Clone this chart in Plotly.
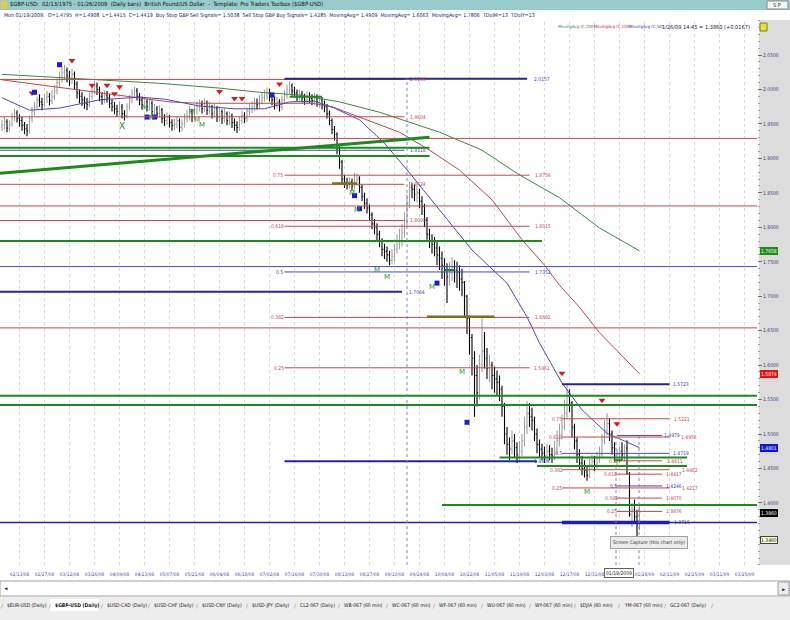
import plotly.graph_objects as go

# ---------------- DATA ----------------
# daily bars, bar index 0 = Mon 02/04/2008 ... index 255 = Mon 01/26/2009
O = [1.945,1.948,1.953,1.944,1.950,1.960,1.966,1.958,1.955,1.948,
     1.943,1.940,1.958,1.968,1.975,1.985,1.982,1.978,1.988,1.990,
     1.984,1.990,1.998,2.010,2.018,2.025,2.028,2.020,2.015,2.022,
     2.008,1.995,1.990,1.985,1.980,1.978,1.990,1.998,2.005,2.000,
     1.990,1.985,1.992,1.988,1.980,1.975,1.972,1.968,1.975,1.965,
     1.962,1.975,1.985,1.995,1.998,1.990,1.985,1.978,1.982,1.975,
     1.980,1.968,1.972,1.965,1.970,1.958,1.955,1.960,1.952,1.948,
     1.950,1.955,1.945,1.950,1.958,1.962,1.968,1.960,1.970,1.975,
     1.978,1.972,1.980,1.970,1.975,1.965,1.972,1.960,1.968,1.958,
     1.965,1.955,1.962,1.952,1.948,1.945,1.955,1.962,1.958,1.968,
     1.972,1.975,1.980,1.978,1.985,1.988,1.992,1.995,1.990,1.985,
     1.978,1.982,1.975,1.985,1.992,2.000,2.005,1.998,1.995,1.990,
     1.993,1.988,1.985,1.990,1.987,1.984,1.988,1.982,1.985,1.978,
     1.975,1.965,1.955,1.942,1.935,1.915,1.895,1.870,1.865,1.862,
     1.866,1.860,1.868,1.870,1.858,1.845,1.835,1.828,1.818,1.805,
     1.800,1.790,1.780,1.768,1.765,1.760,1.752,1.758,1.768,1.775,
     1.780,1.792,1.810,1.835,1.858,1.855,1.848,1.850,1.838,1.830,
     1.810,1.790,1.780,1.775,1.770,1.760,1.755,1.745,1.738,1.728,
     1.735,1.742,1.738,1.735,1.725,1.720,1.700,1.668,1.640,1.610,
     1.585,1.560,1.600,1.620,1.610,1.595,1.600,1.585,1.580,1.575,
     1.565,1.540,1.500,1.485,1.478,1.490,1.480,1.470,1.475,1.490,
     1.510,1.530,1.525,1.520,1.500,1.485,1.478,1.472,1.468,1.475,
     1.470,1.468,1.478,1.490,1.500,1.510,1.530,1.560,1.545,1.510,
     1.490,1.470,1.458,1.450,1.448,1.440,1.455,1.460,1.455,1.465,
     1.470,1.490,1.505,1.515,1.500,1.480,1.465,1.470,1.475,1.470,
     1.4795,1.442,1.383,1.390,1.380,1.3693]
H = [1.956,1.960,1.957,1.955,1.966,1.972,1.970,1.964,1.960,1.953,
     1.950,1.962,1.975,1.982,1.990,1.993,1.988,1.994,1.998,1.995,
     1.999,2.006,2.016,2.026,2.034,2.036,2.032,2.027,2.030,2.026,
     2.012,2.000,1.996,1.990,1.988,1.996,2.006,2.013,2.010,2.004,
     1.996,1.999,1.998,1.993,1.986,1.982,1.978,1.982,1.979,1.970,
     1.980,1.992,2.001,2.004,2.002,1.995,1.990,1.989,1.986,1.987,
     1.984,1.979,1.976,1.977,1.973,1.964,1.967,1.963,1.957,1.958,
     1.962,1.958,1.957,1.965,1.970,1.976,1.972,1.977,1.983,1.986,
     1.984,1.987,1.984,1.982,1.978,1.979,1.976,1.974,1.971,1.972,
     1.968,1.968,1.965,1.958,1.954,1.961,1.969,1.967,1.974,1.980,
     1.983,1.988,1.987,1.992,1.996,2.000,2.003,2.001,1.995,1.990,
     1.989,1.986,1.991,1.999,2.007,2.012,2.009,2.004,2.000,2.000,
     1.998,1.994,1.997,1.996,1.993,1.995,1.993,1.991,1.989,1.984,
     1.979,1.969,1.958,1.947,1.938,1.919,1.898,1.876,1.872,1.873,
     1.871,1.879,1.878,1.874,1.862,1.850,1.842,1.833,1.822,1.812,
     1.806,1.795,1.784,1.776,1.772,1.766,1.768,1.776,1.790,1.798,
     1.805,1.822,1.848,1.866,1.864,1.862,1.860,1.856,1.845,1.834,
     1.815,1.798,1.790,1.786,1.780,1.772,1.765,1.755,1.748,1.750,
     1.757,1.752,1.750,1.745,1.740,1.722,1.702,1.672,1.645,1.620,
     1.600,1.615,1.668,1.648,1.625,1.615,1.605,1.598,1.592,1.585,
     1.570,1.545,1.510,1.495,1.505,1.500,1.488,1.490,1.500,1.525,
     1.548,1.545,1.538,1.525,1.508,1.492,1.486,1.482,1.486,1.484,
     1.480,1.490,1.505,1.515,1.528,1.550,1.572,1.565,1.548,1.515,
     1.495,1.478,1.468,1.462,1.455,1.464,1.470,1.468,1.474,1.482,
     1.500,1.520,1.530,1.522,1.505,1.488,1.478,1.482,1.488,1.485,
     1.4908,1.445,1.400,1.405,1.390,1.395]
L = [1.940,1.942,1.938,1.939,1.946,1.954,1.952,1.946,1.940,1.935,
     1.932,1.936,1.952,1.962,1.970,1.975,1.970,1.974,1.980,1.977,
     1.979,1.985,1.993,2.004,2.010,2.015,2.010,2.005,2.008,2.000,
     1.987,1.980,1.976,1.972,1.970,1.974,1.985,1.993,1.992,1.983,
     1.978,1.980,1.981,1.973,1.968,1.964,1.960,1.962,1.958,1.955,
     1.958,1.970,1.980,1.988,1.984,1.977,1.971,1.972,1.968,1.969,
     1.962,1.961,1.958,1.959,1.951,1.947,1.949,1.945,1.940,1.941,
     1.944,1.938,1.939,1.945,1.952,1.955,1.953,1.955,1.964,1.968,
     1.965,1.967,1.963,1.964,1.958,1.959,1.953,1.954,1.950,1.952,
     1.948,1.949,1.944,1.940,1.937,1.940,1.950,1.951,1.953,1.962,
     1.966,1.969,1.971,1.972,1.979,1.982,1.985,1.983,1.977,1.971,
     1.972,1.968,1.970,1.980,1.987,1.994,1.991,1.988,1.983,1.984,
     1.981,1.978,1.979,1.980,1.977,1.978,1.975,1.974,1.971,1.967,
     1.958,1.948,1.935,1.926,1.906,1.885,1.862,1.857,1.855,1.856,
     1.853,1.855,1.860,1.850,1.838,1.827,1.820,1.810,1.797,1.790,
     1.781,1.771,1.758,1.754,1.750,1.745,1.746,1.750,1.762,1.768,
     1.772,1.785,1.800,1.828,1.842,1.838,1.836,1.828,1.818,1.800,
     1.782,1.770,1.762,1.758,1.745,1.738,1.725,1.715,1.690,1.715,
     1.722,1.720,1.712,1.708,1.700,1.670,1.645,1.615,1.585,1.525,
     1.540,1.550,1.590,1.595,1.580,1.575,1.565,1.560,1.555,1.548,
     1.525,1.485,1.470,1.462,1.470,1.465,1.458,1.460,1.468,1.482,
     1.500,1.510,1.505,1.490,1.472,1.466,1.462,1.458,1.460,1.462,
     1.458,1.462,1.470,1.482,1.492,1.505,1.522,1.532,1.495,1.478,
     1.458,1.448,1.440,1.437,1.432,1.436,1.448,1.446,1.450,1.458,
     1.465,1.485,1.498,1.490,1.470,1.460,1.455,1.458,1.462,1.460,
     1.4415,1.380,1.365,1.370,1.350,1.360]
C = [1.948,1.953,1.944,1.950,1.960,1.966,1.958,1.955,1.948,1.943,
     1.940,1.958,1.968,1.975,1.985,1.982,1.978,1.988,1.990,1.984,
     1.990,1.998,2.010,2.018,2.025,2.028,2.020,2.015,2.022,2.008,
     1.995,1.990,1.985,1.980,1.978,1.990,1.998,2.005,2.000,1.990,
     1.985,1.992,1.988,1.980,1.975,1.972,1.968,1.975,1.965,1.962,
     1.975,1.985,1.995,1.998,1.990,1.985,1.978,1.982,1.975,1.980,
     1.968,1.972,1.965,1.970,1.958,1.955,1.960,1.952,1.948,1.950,
     1.955,1.945,1.950,1.958,1.962,1.968,1.960,1.970,1.975,1.978,
     1.972,1.980,1.970,1.975,1.965,1.972,1.960,1.968,1.958,1.965,
     1.955,1.962,1.952,1.948,1.945,1.955,1.962,1.958,1.968,1.972,
     1.975,1.980,1.978,1.985,1.988,1.992,1.995,1.990,1.985,1.978,
     1.982,1.975,1.985,1.992,2.000,2.005,1.998,1.995,1.990,1.993,
     1.988,1.985,1.990,1.987,1.984,1.988,1.982,1.985,1.978,1.975,
     1.965,1.955,1.942,1.935,1.915,1.895,1.870,1.865,1.862,1.866,
     1.860,1.868,1.870,1.858,1.845,1.835,1.828,1.818,1.805,1.800,
     1.790,1.780,1.768,1.765,1.760,1.752,1.758,1.768,1.775,1.780,
     1.792,1.810,1.835,1.858,1.855,1.848,1.850,1.838,1.830,1.810,
     1.790,1.780,1.775,1.770,1.760,1.755,1.745,1.738,1.728,1.735,
     1.742,1.738,1.735,1.725,1.720,1.700,1.668,1.640,1.610,1.585,
     1.560,1.600,1.620,1.610,1.595,1.600,1.585,1.580,1.575,1.565,
     1.540,1.500,1.485,1.478,1.490,1.480,1.470,1.475,1.490,1.510,
     1.530,1.525,1.520,1.500,1.485,1.478,1.472,1.468,1.475,1.470,
     1.468,1.478,1.490,1.500,1.510,1.530,1.560,1.545,1.510,1.490,
     1.470,1.458,1.450,1.448,1.440,1.455,1.460,1.455,1.465,1.470,
     1.490,1.505,1.515,1.500,1.480,1.465,1.470,1.475,1.470,1.480,
     1.4419,1.383,1.390,1.380,1.3693,1.3860]

# 01/14/09 label is hidden under the cursor-date box in the original, so it is left out
DATE_TICK_I = [7, 17, 27, 37, 47, 57, 67, 77, 87, 97, 107, 117, 127, 137, 147,
               157, 167, 177, 187, 197, 207, 217, 227, 237, 257, 267, 277, 287, 297]
DATE_TICK_TXT = ["02/13/08", "02/27/08", "03/12/08", "03/26/08", "04/09/08", "04/23/08",
                 "05/07/08", "05/21/08", "06/04/08", "06/18/08", "07/02/08", "07/16/08",
                 "07/30/08", "08/13/08", "08/27/08", "09/10/08", "09/24/08", "10/08/08",
                 "10/22/08", "11/05/08", "11/19/08", "12/03/08", "12/17/08", "12/31/08",
                 "01/28/09", "02/11/09", "02/25/09", "03/11/09", "03/25/09"]
GRID_I = [7, 17, 27, 37, 47, 57, 67, 77, 87, 97, 107, 117, 127, 137, 147,
          157, 167, 177, 187, 197, 207, 217, 227, 237, 247, 257, 267, 277, 287, 297]
PRICE_TICKS = [1.40, 1.45, 1.50, 1.55, 1.60, 1.65, 1.70, 1.75, 1.80, 1.85, 1.90, 1.95, 2.00, 2.05]

# moving averages (bar index, value)
MA50_I = [0, 11, 23, 39, 55, 65, 79, 93, 105, 115, 125, 133, 143, 153, 163, 175, 188, 202, 210, 215, 224, 232, 242, 255]
MA50_V = [1.988, 1.970, 1.973, 1.985, 1.989, 1.986, 1.976, 1.972, 1.972, 1.982, 1.983, 1.973,
          1.956, 1.922, 1.879, 1.825, 1.767, 1.719, 1.670, 1.632, 1.574, 1.535, 1.501, 1.4801]
MA100_I = [0, 19, 39, 67, 79, 103, 124, 132, 146, 159, 171, 183, 196, 208, 217, 223, 231, 239, 255]
MA100_V = [2.014, 2.005, 1.995, 1.982, 1.980, 1.980, 1.980, 1.975, 1.956, 1.938, 1.912, 1.883,
           1.840, 1.782, 1.745, 1.716, 1.684, 1.647, 1.5874]
MA200_I = [0, 20, 39, 63, 87, 103, 119, 135, 151, 163, 175, 192, 207, 223, 239, 255]
MA200_V = [2.022, 2.018, 2.014, 2.009, 2.002, 1.996, 1.992, 1.982, 1.967, 1.953, 1.938, 1.912,
           1.876, 1.843, 1.799, 1.7658]

# drawn levels: price, from bar, to bar, kind
LEVEL_P = [2.0146, 1.9604, 1.9290, 1.8624, 1.8310, 1.8099, 1.8756, 1.8015, 1.6692, 1.6540, 1.5961,
           1.5221, 1.4956, 1.4482, 1.4217, 1.4611, 1.4417, 1.4070, 1.3876,
           1.9118, 1.7430, 1.7352, 1.4719, 1.4979, 1.4246,
           2.0157, 1.7064, 1.5723, 1.4604, 1.3716, 1.3716,
           1.9155, 1.9035, 1.7800, 1.5556, 1.5420, 1.4658, 1.4535, 1.3970, 1.9895, 1.7380, 1.4620,
           1.8636, 1.6700]
LEVEL_FROM = [-1, -1, -1, -1, -1, -1, 113, 113, 113, -1, 113,
              224, 224, 224, 224, 246, 246, 246, 246,
              -1, -1, 113, 224, 246, 246,
              113, -1, 224, 113, -1, 224,
              -1, -1, -1, -1, -1, 199, 214, 176, 115, 177, 245,
              132, 170]
LEVEL_TO = [161, 161, 303, 161, 303, 161, 211, 211, 211, 303, 211,
            267, 267, 267, 267, 264, 264, 264, 264,
            161, 303, 211, 267, 264, 264,
            210, 160, 267, 214, 303, 267,
            171, 171, 216, 303, 303, 274, 274, 303, 128, 181, 248,
            142, 197]
LEVEL_KIND = ["red"] * 19 + ["blue"] * 6 + ["navy", "navy", "navy", "navy", "navythin", "navythick"] + \
             ["green"] * 11 + ["olive"] * 2
TREND_I = [-1, 171]
TREND_P = [1.8784, 1.9306]
VLINE_I = [162, 245.6, 254.8]
VLINE_TOP = [2.016, 1.500, 1.500]

# fib labels: text, price, left pixel
FIB_TXT = ["2.0146", "2.0157", "1.9604", "1.9118", "0.75", "1.8756", "1.8624", "1.8099", "0.618", "1.8015",
           "0.5", "1.7352", "1.7064", "0.382", "1.6692", "0.25", "1.5961", "1.5723", "0.75", "1.5221",
           "0.618", "1.4979", "1.4956", "0.5", "1.4719", "0.5", "1.4611", "1.4604", "0.382", "1.4482",
           "0.618", "1.4417", "0.5", "1.4246", "0.25", "1.4217", "0.382", "1.4070", "0.25", "1.3876", "1.3716"]
FIB_P = [2.0146, 2.0157, 1.9604, 1.9118, 1.8756, 1.8756, 1.8624, 1.8099, 1.8015, 1.8015,
         1.7352, 1.7352, 1.7064, 1.6692, 1.6692, 1.5961, 1.5961, 1.5723, 1.5221, 1.5221,
         1.4956, 1.4979, 1.4956, 1.4719, 1.4719, 1.4611, 1.4611, 1.4604, 1.4482, 1.4482,
         1.4417, 1.4417, 1.4246, 1.4246, 1.4217, 1.4217, 1.4070, 1.4070, 1.3876, 1.3876, 1.3716]
FIB_COL = ["red", "blue", "red", "blue", "red", "red", "red", "red", "red", "red",
           "blue", "blue", "blue", "red", "red", "red", "red", "blue", "red", "red",
           "red", "blue", "red", "blue", "blue", "red", "red", "blue", "red", "red",
           "red", "red", "blue", "blue", "red", "red", "red", "red", "red", "red", "blue"]
FIB_X = [408, 532, 408, 408, 271, 533, 408, 408, 269, 533,
         274, 533, 407, 269, 533, 272, 532, 671, 550, 672,
         547, 662, 679, 553, 671, 607, 665, 532, 548, 680,
         602, 664, 608, 664, 550, 680, 603, 664, 605, 664, 672]

# signals (bar index, price)
SELL_I = [12, 28, 36, 42, 45, 47, 87, 93, 96, 111, 224, 240, 246]
SELL_P = [1.995, 2.042, 2.006, 2.006, 1.994, 2.004, 1.997, 1.987, 1.987, 2.008, 1.588, 1.549, 1.515]
BUY_SQ_I = [13, 23, 58, 61, 108, 141, 143, 174, 186]
BUY_SQ_P = [1.996, 2.036, 1.960, 1.960, 1.992, 1.846, 1.827, 1.719, 1.517]
GRN_I = [57, 60, 76, 78, 80, 140, 142, 150, 154, 172, 184, 234]
GRN_P = [1.973, 1.959, 1.967, 1.956, 1.948, 1.850, 1.825, 1.738, 1.728, 1.713, 1.589, 1.416]
GRN_X_I = [48]
GRN_X_P = [1.946]
CURSOR_PRICE = 1.3460

TABS = ["$EUR-USD (Daily)", "$GBP-USD (Daily)", "$USD-CAD (Daily)", "$USD-CHF (Daily)",
        "$USD-CNY (Daily)", "$USD-JPY (Daily)", "CL2-067 (Daily)", "WB-067 (60 min)",
        "WC-067 (60 min)", "WF-067 (60 min)", "WU-067 (60 min)", "WY-067 (60 min)",
        "$DJIA (60 min)", "YM-067 (60 min)", "GC2-067 (Daily)"]

# ---------------- LAYOUT HELPERS ----------------
W, HT = 790, 620
PL, PR, PT, PB = 0, 757, 20, 565
X0, X1 = -0.8, 302.0
Y0 = 2.0 - (PB - 89.5) / 689.0
Y1 = 2.0 - (PT - 89.5) / 689.0
FONT = "Liberation Sans Narrow, DejaVu Sans Condensed, Arial Narrow, sans-serif"

def xp(px):
    return (px - PL) / (PR - PL)

def yp(py):
    return (PB - py) / (PB - PT)

def bi(px):
    return X0 + px / (PR - PL) * (X1 - X0)

COL = {"red": "#c8464a", "blue": "#3c3cc8", "navy": "#2222a6", "green": "#1e8a1e",
       "olive": "#8a6a1a"}
STYLE = {"red": ("#c8464a", 1), "blue": ("#4848c8", 1), "navy": ("#2323a8", 2),
         "navythin": ("#2323a8", 1.5), "navythick": ("#1c1cc0", 3.5),
         "green": ("#1e8a1e", 2), "olive": ("#8a6a1a", 2.5)}

fig = go.Figure()

idx = list(range(len(C)))
fig.add_trace(go.Scatter(x=MA200_I, y=MA200_V, mode="lines", line=dict(color="#3a8a3a", width=1),
                         hoverinfo="skip", showlegend=False))
fig.add_trace(go.Scatter(x=MA100_I, y=MA100_V, mode="lines", line=dict(color="#c04848", width=1),
                         hoverinfo="skip", showlegend=False))
fig.add_trace(go.Scatter(x=MA50_I, y=MA50_V, mode="lines", line=dict(color="#4a4ac0", width=1),
                         hoverinfo="skip", showlegend=False))
fig.add_trace(go.Ohlc(x=idx, open=O, high=H, low=L, close=C,
                      increasing=dict(line=dict(color="#a0a0a0", width=1.1)),
                      decreasing=dict(line=dict(color="#000000", width=1.1)),
                      tickwidth=0.35, showlegend=False, hoverinfo="skip"))
fig.add_trace(go.Scatter(x=SELL_I, y=SELL_P, mode="markers",
                         marker=dict(symbol="triangle-down", size=6, color="#e01818"),
                         showlegend=False, hoverinfo="skip"))
fig.add_trace(go.Scatter(x=BUY_SQ_I, y=BUY_SQ_P, mode="markers",
                         marker=dict(symbol="square", size=5, color="#1a1ae0"),
                         showlegend=False, hoverinfo="skip"))
fig.add_trace(go.Scatter(x=GRN_I, y=GRN_P, mode="text", text=["M"] * len(GRN_I),
                         textfont=dict(color="#1a9a1a", size=7, family="DejaVu Sans"),
                         showlegend=False, hoverinfo="skip"))
fig.add_trace(go.Scatter(x=GRN_X_I, y=GRN_X_P, mode="text", text=["X"],
                         textfont=dict(color="#1a8a1a", size=9, family="DejaVu Sans"),
                         showlegend=False, hoverinfo="skip"))

shapes = []
for gi in GRID_I:
    shapes.append(dict(type="line", xref="x", yref="paper", x0=gi, x1=gi, y0=0, y1=1,
                       line=dict(color="#d8d8e2", width=1, dash="dot"), layer="below"))
for p, a, b, k in zip(LEVEL_P, LEVEL_FROM, LEVEL_TO, LEVEL_KIND):
    c, w = STYLE[k]
    shapes.append(dict(type="line", xref="x", yref="y", x0=a, x1=b, y0=p, y1=p,
                       line=dict(color=c, width=w)))
shapes.append(dict(type="line", xref="x", yref="y", x0=TREND_I[0], x1=TREND_I[1],
                   y0=TREND_P[0], y1=TREND_P[1], line=dict(color="#1e8a1e", width=3)))
for vi, top in zip(VLINE_I, VLINE_TOP):
    shapes.append(dict(type="line", xref="x", yref="y", x0=vi, x1=vi, y0=Y0, y1=top,
                       line=dict(color="#7a88b8", width=1, dash="dot")))

def rect(x0, y0, x1, y1, fill, line=None, lw=0):
    shapes.append(dict(type="rect", xref="paper", yref="paper", x0=xp(x0), x1=xp(x1),
                       y0=yp(y1), y1=yp(y0), fillcolor=fill,
                       line=dict(color=line or fill, width=lw), layer="below"))

rect(0, 0, 790, 10, "#98cccc")
rect(0, 10, 790, 20, "#ffffff")
rect(759, 20, 790, 565, "#dcdcdc")
rect(0, 581, 790, 596, "#ffffff", "#a0a0a0", 1)
rect(778, 582, 789, 595, "#ececec", "#a0a0a0", 1)
rect(0, 597, 790, 620, "#ededed")
rect(767, 1, 788, 9, "#f4f4f4", "#888888", 1)

ann = []
def text(px, py, s, size=7, color="#000000", anchor="left", bold=False, **kw):
    if bold:
        s = "<b>" + s + "</b>"
    ann.append(dict(xref="paper", yref="paper", x=xp(px), y=yp(py), text=s, showarrow=False,
                    xanchor=anchor, yanchor="middle",
                    font=dict(family=FONT, size=size, color=color), **kw))

# header
rect(1, 1, 7, 9, "#e8c848")
text(8, 5, "$GBP-USD:  02/13/1975 - 01/26/2009  (Daily bars)  British Pound/US Dollar  -  "
           "Template: Pro Traders Toolbox ($GBP-USD)", size=5.8, color="#101010")
text(777.5, 5, "S P", size=5.5, color="#333333", anchor="center")
text(2, 15, "Mon 01/19/2009:  O=%.4f  H=%.4f  L=%.4f  C=%.4f  Buy Stop GBP Sell Signals= 1.5038  "
            "Sell Stop GBP Buy Signals= 1.4285  MovingAvg= 1.4909  MovingAvg= 1.6063  "
            "MovingAvg= 1.7806  TDoIM=13  TDoIY=13" % (O[250], H[250], L[250], C[250]),
     size=5.3, color="#1a1a70")
text(556, 27, "MovingAvg (C,200)", size=4.3, color="#2a8a2a")
text(592, 27, "MovingAvg (C,100)", size=4.3, color="#d02020")
text(627, 27, "MovingAvg (C,50)", size=4.3, color="#3030c0")
text(660, 27, "1/26/09 14:45 = %.4f (+%.4f)" % (C[-1], C[-1] - C[-2]), size=5.6, color="#202040")
rect(760, 23, 767, 31, "#e8e040", "#808000", 1)

# fib labels
for t, p, c, x in zip(FIB_TXT, FIB_P, FIB_COL, FIB_X):
    ann.append(dict(xref="x", yref="y", x=bi(x), y=p, text=t, showarrow=False,
                    xanchor="left", yanchor="middle",
                    font=dict(family=FONT, size=5, color=COL[c])))

# right-axis value boxes
for v, bg, fc in [(MA200_V[-1], "#189018", "#ffffff"), (MA100_V[-1], "#e81010", "#ffffff"),
                  (MA50_V[-1], "#1010e8", "#ffffff"), (C[-1], "#000000", "#ffffff"),
                  (CURSOR_PRICE, "#ffffd0", "#202020")]:
    ann.append(dict(xref="paper", yref="y", x=xp(760), y=v, text="%.4f" % v, showarrow=False,
                    xanchor="left", yanchor="middle", bgcolor=bg,
                    bordercolor="#404040" if bg == "#ffffd0" else bg, borderwidth=1, borderpad=0,
                    font=dict(family=FONT, size=5, color=fc)))

text(619, 573, "01/19/2009", size=5, color="#202020", anchor="center",
     bgcolor="#ffffff", bordercolor="#606060", borderwidth=1, borderpad=1)
text(649, 542, "Screen Capture (this chart only)", size=5, color="#303030", anchor="center",
     bgcolor="#ececec", bordercolor="#a0a0a0", borderwidth=1, borderpad=2)

text(2, 588, "◄", size=5, color="#202020")
text(783.5, 588.5, "►", size=5, color="#202020", anchor="center")

TAB_X = [5, 53, 105, 152, 200, 250, 298, 342, 390, 437, 485, 533, 578, 622, 668]
for i, (t, x) in enumerate(zip(TABS, TAB_X)):
    if i == 1:
        rect(x - 3, 599, x + 45, 611, "#ffffff")
    text(x, 605, t, size=5, color="#202020", bold=(i == 1))
    text(x - 6, 605, "/", size=6, color="#808080")
text(709, 605, "/", size=6, color="#808080")

fig.update_layout(
    width=W, height=HT,
    margin=dict(l=PL, r=W - PR, t=PT, b=HT - PB, pad=0),
    paper_bgcolor="#ffffff", plot_bgcolor="#ffffff",
    showlegend=False, shapes=shapes, annotations=ann,
    xaxis=dict(range=[X0, X1], tickmode="array", tickvals=DATE_TICK_I, ticktext=DATE_TICK_TXT,
               tickangle=0, showgrid=False, ticklabelstandoff=5,
               ticks="", zeroline=False, showline=False,
               tickfont=dict(family=FONT, size=4.8, color="#4a4aa0"),
               rangeslider=dict(visible=False), fixedrange=True),
    yaxis=dict(range=[Y0, Y1], side="right", tickmode="array", tickvals=PRICE_TICKS,
               ticktext=["%.4f" % v for v in PRICE_TICKS],
               ticks="outside", ticklen=4, tickcolor="#707070", showgrid=False,
               zeroline=False, showline=False,
               minor=dict(ticks="outside", ticklen=2, dtick=0.01, tickcolor="#a0a0a0"),
               tickfont=dict(family=FONT, size=5, color="#3a3a80"), fixedrange=True),
)

fig.write_html("out.html", config={"displayModeBar": False},
               post_script="document.body.style.margin='0';document.body.style.overflow='hidden';")
